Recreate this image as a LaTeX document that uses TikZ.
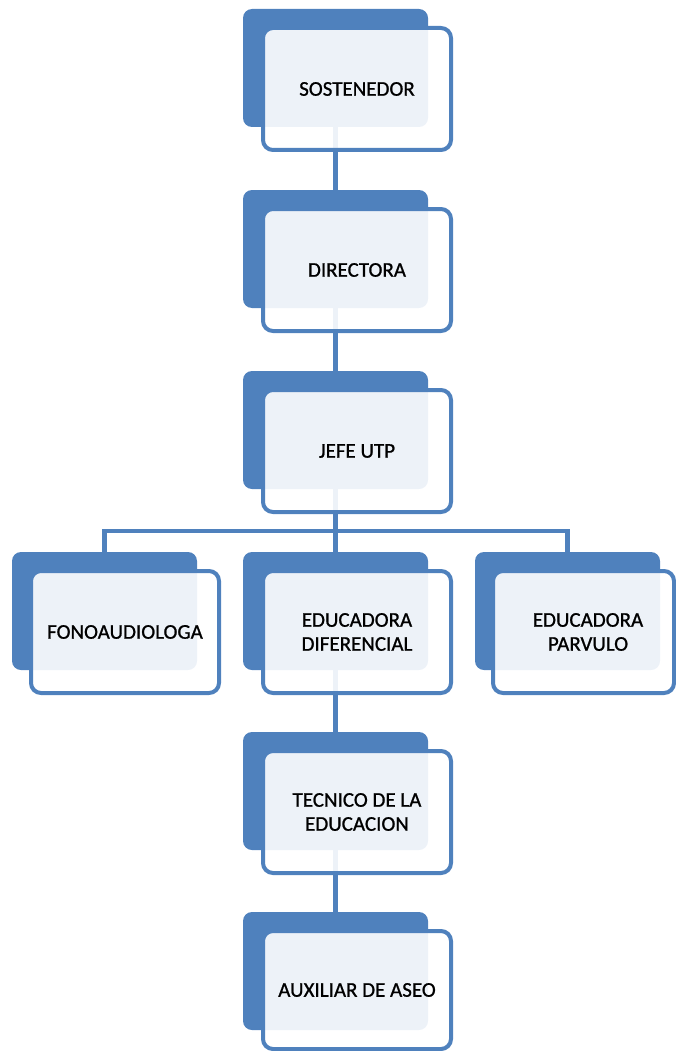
\documentclass[tikz,border=0pt]{standalone}
\usepackage{fontspec}
\setmainfont{Carlito}
\newfontfamily\boxfont[FakeBold=0.9]{Carlito}
\definecolor{ob}{HTML}{4F81BD}
\begin{document}
\begin{tikzpicture}[x=1pt,y=-1pt,
  back/.style={fill=ob, rounded corners=9pt, minimum width=185pt, minimum height=118pt, inner sep=0pt, outer sep=0pt, anchor=north west},
  front/.style={draw=ob, line width=4pt, fill=white, fill opacity=0.9, text opacity=1, rounded corners=10pt, minimum width=188pt, minimum height=122pt, inner sep=0pt, anchor=north west, font=\boxfont\fontsize{21}{24}\selectfont, align=center, text=black},
  conn/.style={draw=ob, line width=4.5pt}]
\useasboundingbox (0,0) rectangle (676,1051);
% back boxes
\node[back] (b1) at (243,9) {};
\node[back] (b2) at (243,190) {};
\node[back] (b3) at (243,371) {};
\node[back] (b4l) at (12,552) {};
\node[back] (b4m) at (243,552) {};
\node[back] (b4r) at (475,552) {};
\node[back] (b5) at (243,732) {};
\node[back] (b6) at (243,912) {};
% connectors
\coordinate (bus) at (336,531);
\draw[conn] (b1.south) -- (b2.north);
\draw[conn] (b2.south) -- (b3.north);
\draw[conn] (b3.south) -- (b4m.north);
\draw[conn] (b4l.north) |- (bus) -| (b4r.north);
\draw[conn] (b4m.south) -- (b5.north);
\draw[conn] (b5.south) -- (b6.north);
% front boxes
\node[front] (f1) at (261,26) {SOSTENEDOR};
\node[front] (f2) at (261,207) {DIRECTORA};
\node[front] (f3) at (261,388) {JEFE UTP};
\node[front] (f4l) at (29,569) {FONOAUDIOLOGA};
\node[front] (f4m) at (261,569) {EDUCADORA\\DIFERENCIAL};
\node[front, minimum width=181pt] (f4r) at (491,569) {\hspace*{9pt}EDUCADORA\\\hspace*{9pt}PARVULO};
\node[front] (f5) at (261,749) {TECNICO DE LA\\EDUCACION};
\node[front, minimum height=118pt] (f6) at (261,929) {AUXILIAR DE ASEO};
\end{tikzpicture}
\end{document}
